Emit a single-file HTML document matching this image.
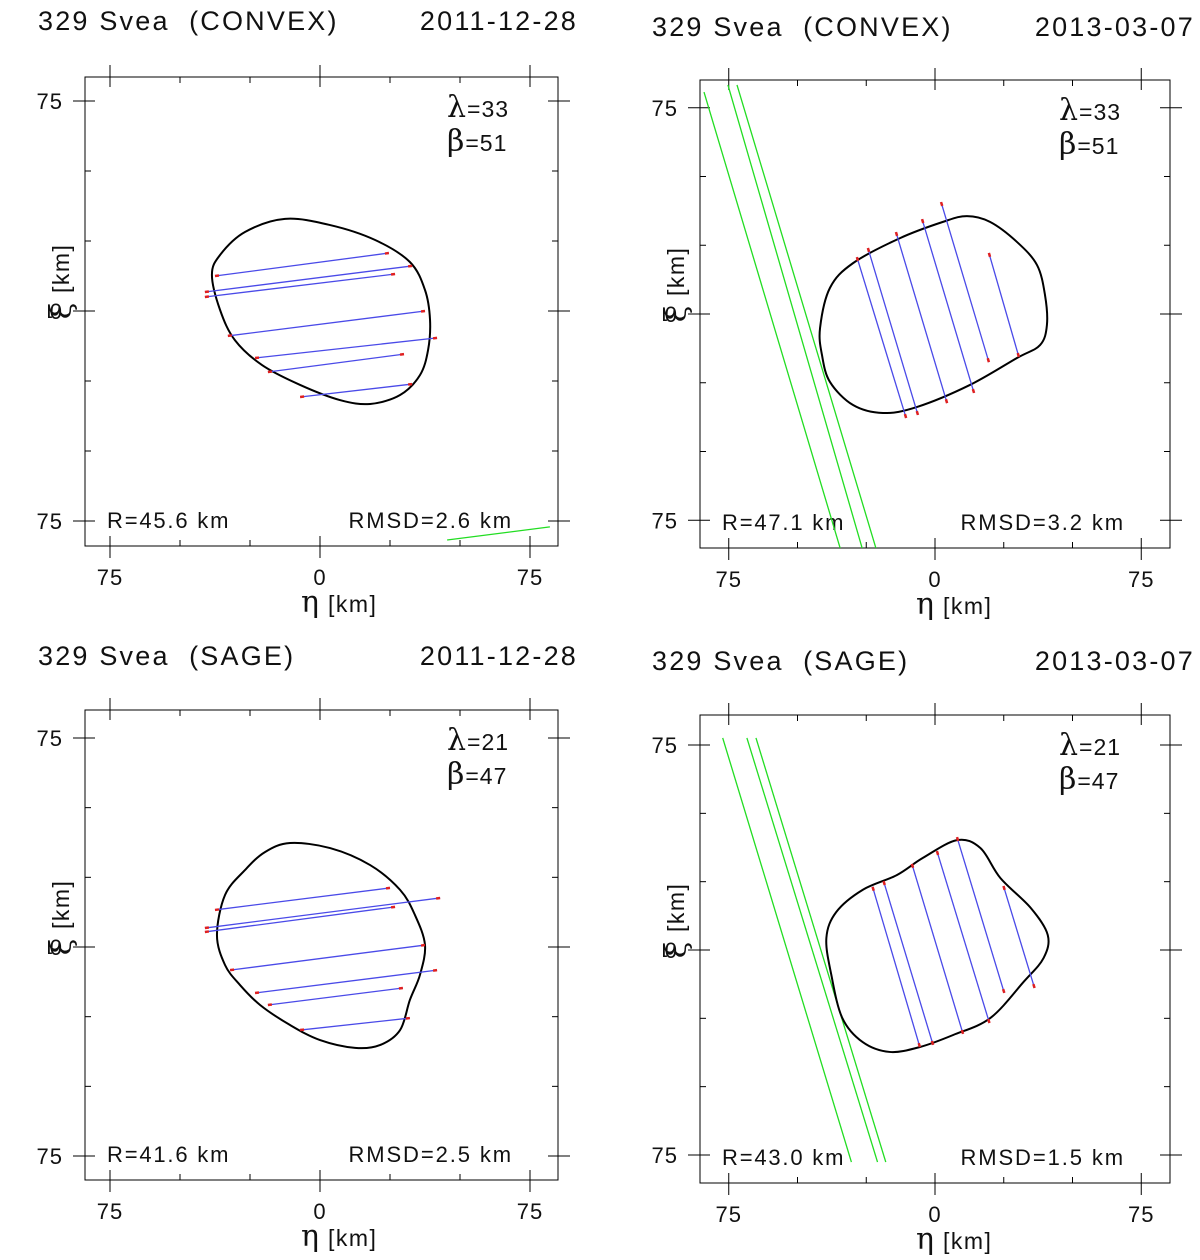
<!DOCTYPE html>
<html><head><meta charset="utf-8"><style>
body{margin:0;background:#fff;}
svg{display:block;font-family:"Liberation Sans",sans-serif;}
</style></head><body>
<svg id="chart" width="1200" height="1260" viewBox="0 0 1200 1260" xmlns="http://www.w3.org/2000/svg"></svg>
<script>
// ---- data (km) ----
const panelTitles = ["329 Svea\u00a0 (CONVEX)","329 Svea\u00a0 (CONVEX)","329 Svea\u00a0 (SAGE)","329 Svea\u00a0 (SAGE)"];
const panelDates = ["2011-12-28","2013-03-07","2011-12-28","2013-03-07"];
const panelLambda = [33,33,21,21];
const panelBeta = [51,51,47,47];
const panelR = ["45.6","47.1","41.6","43.0"];
const panelRMSD = ["2.6","3.2","2.5","1.5"];
const tickValues = [-75,-50,-25,0,25,50,75];
const tickLabels = ["75","0","75"];
const outline1 = [[-12.5,32.9],[3.6,30.7],[19.6,25.4],[32.1,17.5],[37.5,7.5],[39.3,-3.2],[38.6,-13.9],[35.7,-22.9],[28.6,-30],[17.9,-33.2],[7.1,-31.8],[-7.1,-26.4],[-20.7,-19.3],[-30.4,-10.4],[-35.7,0.4],[-38.6,12.9],[-35.7,20],[-26.8,28.2]];
const outline2 = [[-41.8,-5.1],[-38.2,9.5],[-29.8,18.5],[-12.7,27.6],[2.9,33.5],[11.6,35.6],[20,33.5],[29.8,26.2],[37.1,17.8],[40,6.9],[40.7,-4],[38.2,-11.3],[29.8,-16],[12.7,-25.8],[-6.5,-33.8],[-18.9,-36],[-29.8,-33.1],[-38.2,-24.7],[-41.1,-14.9]];
const outline3 = [[-10.7,37.3],[3.6,35.5],[17.9,29.4],[28.6,20.5],[33.9,11.5],[37.5,0.7],[35.7,-10],[32.1,-19],[28.6,-29.8],[21.4,-35.2],[12.5,-36.2],[0,-33.4],[-10.7,-28],[-21.4,-20.8],[-28.6,-13.6],[-33.9,-6.5],[-36.8,4.3],[-33.9,18.7],[-26.8,27.6],[-19.6,34.1]];
const outline4 = [[-39.5,4.4],[-35.9,13.9],[-26.3,22],[-13.9,27.4],[-4.4,33.7],[8,40.2],[16.5,37.3],[23.8,26.3],[34.8,15.4],[41,5.5],[39.5,-2.9],[32.2,-11.7],[20.1,-24.9],[6.6,-31.1],[-5.5,-35.5],[-16.5,-37.3],[-26.3,-33.7],[-33.7,-24.9],[-37.7,-9.1]];
const chords1 = [[-37.5,12.5,24.6,20.7],[-41.1,6.8,32.9,16.1],[-41.1,5,26.8,13.2],[-32.9,-8.9,37.5,0],[-23.2,-16.8,41.8,-9.6],[-18.6,-21.8,30,-15.4],[-7.1,-30.7,32.9,-26.1]];
const chords2 = [[-28.4,20.7,-10.5,-37.8],[-24.4,24,-6.2,-36.7],[-14.2,29.8,4.4,-32.4],[-4.7,34.5,14.2,-28.7],[2.2,40.7,19.6,-17.5],[19.6,22.2,30.5,-15.6]];
const chords3 = [[-37.5,13.3,25,21.2],[-41.1,6.8,42.9,17.6],[-41.1,5.4,26.8,14.4],[-32.1,-8.3,37.5,0.7],[-23.2,-16.5,41.8,-8.3],[-18.6,-20.8,29.6,-14.7],[-7.1,-29.8,32.1,-25.5]];
const chords4 = [[-22.7,23.1,-5.5,-35.5],[-18.7,25.2,-0.7,-34.7],[-8.4,31.5,10.2,-30.7],[0.7,36.2,19.8,-26.7],[8,41.3,25.2,-15.7],[24.9,23.4,36.2,-13.9]];
const green1 = [[45.4,-81.8,82.1,-77.1]];
const green2 = [[-84,80.7,-34.5,-85.1],[-75.3,83.3,-26.5,-85.1],[-72,83.3,-21.5,-85.1]];
const green3 = [];
const green4 = [[-77.2,77.6,-30.4,-77.6],[-68.4,77.6,-20.9,-77.6],[-65.1,77.6,-17.9,-77.6]];

// ---- layout ----
const layouts = [
 {bx:85,by:77,bw:473,bh:469,cx:320,cy:311,sx:2.8,sy:2.8,tx:38,ty:30,dx:578},
 {bx:700,by:80,bw:470,bh:468,cx:935,cy:314,sx:2.75,sy:2.75,tx:652,ty:36,dx:1195},
 {bx:85,by:710,bw:473,bh:470,cx:320,cy:947,sx:2.8,sy:2.787,tx:38,ty:665,dx:578},
 {bx:700,by:715,bw:470,bh:468,cx:935,cy:950,sx:2.75,sy:2.733,tx:652,ty:670,dx:1195}
];
const outlines=[outline1,outline2,outline3,outline4];
const chords=[chords1,chords2,chords3,chords4];
const greens=[green1,green2,green3,green4];
const NS="http://www.w3.org/2000/svg";
const svg=document.getElementById('chart');
function mk(tag,attrs,parent){const e=document.createElementNS(NS,tag);for(const k in attrs)e.setAttribute(k,attrs[k]);(parent||svg).appendChild(e);return e;}
function txt(parent,x,y,s,size,anchor,ls){const t=mk('text',{x:x,y:y,'font-size':size,'text-anchor':anchor||'start',fill:'#111','letter-spacing':ls||0},parent);t.textContent=s;return t;}
function smooth(P){let d='';const n=P.length;for(let i=0;i<n;i++){const p0=P[(i-1+n)%n],p1=P[i],p2=P[(i+1)%n],p3=P[(i+2)%n];if(i===0)d+='M'+p1[0]+','+p1[1];const c1=[p1[0]+(p2[0]-p0[0])/6,p1[1]+(p2[1]-p0[1])/6],c2=[p2[0]-(p3[0]-p1[0])/6,p2[1]-(p3[1]-p1[1])/6];d+=' C'+c1+' '+c2+' '+p2[0]+','+p2[1];}return d+'Z';}

layouts.forEach((L,i)=>{
 const X=v=>L.cx+v*L.sx, Y=v=>L.cy-v*L.sy;
 const g=mk('g',{});
 
 
 const t=txt(g,L.tx,L.ty,panelTitles[i],27,'start',2.2);
 
 
 const d=txt(g,L.dx,L.ty,panelDates[i],27,'end',2.2);
 
 
 const clipId='clip'+i;
 const cp=mk('clipPath',{id:clipId},g);mk('rect',{x:L.bx,y:L.by,width:L.bw,height:L.bh},cp);
 const box=mk('rect',{x:L.bx,y:L.by,width:L.bw,height:L.bh,fill:'none',stroke:'#000','stroke-width':1},g);
 
 
 const B=L.by+L.bh,R=L.bx+L.bw;
 tickValues.forEach(v=>{
  const major=(v%75===0);const xx=X(v),yy=Y(v);
  if(major){
   mk('line',{x1:xx,y1:L.by-12,x2:xx,y2:L.by+10,stroke:'#000'},g);
   mk('line',{x1:xx,y1:B-10,x2:xx,y2:B+12,stroke:'#000'},g);
   mk('line',{x1:L.bx-12,y1:yy,x2:L.bx+10,y2:yy,stroke:'#000'},g);
   mk('line',{x1:R-10,y1:yy,x2:R+12,y2:yy,stroke:'#000'},g);
  }else{
   mk('line',{x1:xx,y1:L.by,x2:xx,y2:L.by+6,stroke:'#000'},g);
   mk('line',{x1:xx,y1:B-6,x2:xx,y2:B,stroke:'#000'},g);
   mk('line',{x1:L.bx,y1:yy,x2:L.bx+6,y2:yy,stroke:'#000'},g);
   mk('line',{x1:R-6,y1:yy,x2:R,y2:yy,stroke:'#000'},g);
  }
 });
 [-75,0,75].forEach((v,k)=>{
  const a=txt(g,X(v),B+39,tickLabels[k],22,'middle',1);
  
  
  const b=txt(g,L.bx-22,Y(v)+8,tickLabels[k],22,'end',1);
  
  
 });
 const xs=txt(g,X(0)-10,B+66,'η',30,'middle');
 xs.setAttribute('font-family','DejaVu Serif, serif');
 
 
 const xt=txt(g,X(0)+8,B+66,'[km]',23,'start',1.5);
 
 
 const yg=mk('g',{transform:`translate(${L.bx-14},${Y(0)}) rotate(-90)`},g);
 const ys=txt(yg,0,0,'ξ',30,'middle');
 ys.setAttribute('font-family','DejaVu Serif, serif');
 
 
 const yt=txt(yg,18,-2,'[km]',23,'start',1.5);
 
 
 const lm=mk('text',{x:R-111,y:L.by+40,'font-size':23,fill:'#111','letter-spacing':1},g);
 lm.innerHTML='<tspan font-size="30" font-family="DejaVu Serif, serif">λ</tspan>=' + panelLambda[i];
 
 
 const bt=mk('text',{x:R-111,y:L.by+74,'font-size':23,fill:'#111','letter-spacing':1},g);
 bt.innerHTML='<tspan font-size="30" font-family="DejaVu Serif, serif">β</tspan>=' + panelBeta[i];
 
 
 const rl=txt(g,L.bx+22,B-18,'R='+panelR[i]+' km',22,'start',1.8);
 
 
 const rm=txt(g,R-45,B-18,'RMSD='+panelRMSD[i]+' km',22,'end',1.9);
 
 
 const inner=mk('g',{'clip-path':`url(#${clipId})`},g);
 greens[i].forEach(c=>{
  const l=mk('line',{x1:X(c[0]),y1:Y(c[1]),x2:X(c[2]),y2:Y(c[3]),stroke:'#22dd22','stroke-width':1.3},inner);
  
  
 });
 const P=outlines[i].map(p=>[X(p[0]),Y(p[1])]);
 const sh=mk('path',{d:smooth(P),fill:'none',stroke:'#000','stroke-width':2},inner);
 
 
 chords[i].forEach(c=>{
  const x1=X(c[0]),y1=Y(c[1]),x2=X(c[2]),y2=Y(c[3]);
  const l=mk('line',{x1:x1,y1:y1,x2:x2,y2:y2,stroke:'#4a4ae8','stroke-width':1.3},inner);
  
  
  const len=Math.hypot(x2-x1,y2-y1),ux=(x2-x1)/len,uy=(y2-y1)/len;
  const e1=mk('line',{x1:x1,y1:y1,x2:x1+ux*4,y2:y1+uy*4,stroke:'#e02020','stroke-width':2.5},inner);
  
  
  const e2=mk('line',{x1:x2-ux*4,y1:y2-uy*4,x2:x2,y2:y2,stroke:'#e02020','stroke-width':2.5},inner);
  
  
 });
});
</script>
</body></html>
